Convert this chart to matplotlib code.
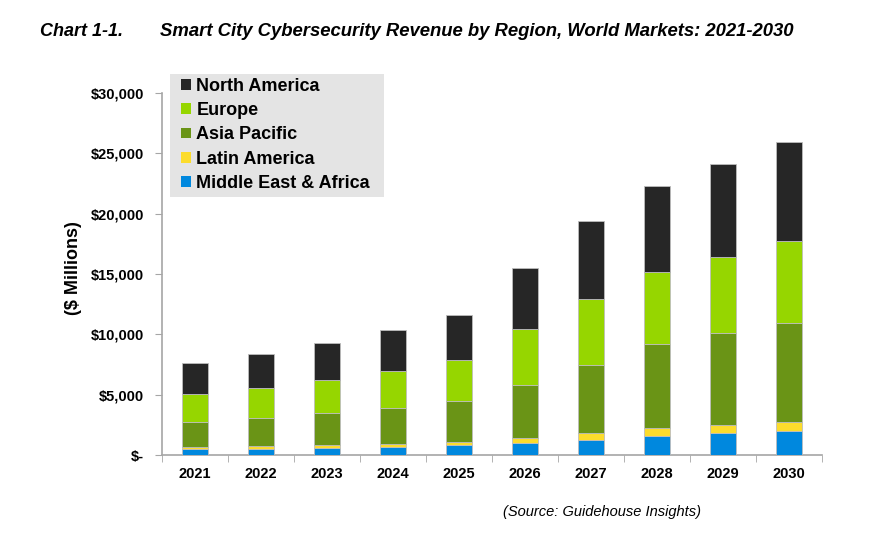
import numpy as np
import matplotlib.pyplot as plt
from matplotlib.patches import Rectangle
from matplotlib.ticker import FuncFormatter, MultipleLocator

years = ['2021', '2022', '2023', '2024', '2025', '2026', '2027', '2028', '2029', '2030']
middle_east_africa = [470, 525, 610, 690, 830, 1020, 1270, 1575, 1800, 1960]
latin_america = [190, 195, 220, 250, 270, 410, 530, 690, 710, 800]
asia_pacific = [2100, 2370, 2680, 2980, 3350, 4410, 5630, 6935, 7570, 8180]
europe = [2290, 2490, 2705, 3040, 3395, 4600, 5470, 5970, 6360, 6790]
north_america = [2550, 2760, 3065, 3400, 3785, 5070, 6520, 7120, 7680, 8240]

series = [
    ('Middle East & Africa', middle_east_africa, '#0088de'),
    ('Latin America', latin_america, '#fcdc2c'),
    ('Asia Pacific', asia_pacific, '#6a9416'),
    ('Europe', europe, '#96d600'),
    ('North America', north_america, '#262626'),
]

plt.rcParams['font.family'] = ['Liberation Sans', 'DejaVu Sans']

W, H = 892, 547
fig = plt.figure(figsize=(W / 100, H / 100), dpi=100)
ax = fig.add_axes([162 / W, 1 - 455 / H, 660 / W, 362 / H])

x = np.arange(len(years))
bottom = np.zeros(len(years))
handles = []
for name, vals, color in series:
    b = ax.bar(x, vals, 0.4, bottom=bottom, color=color, edgecolor='#bdbdbd',
               linewidth=0.6, label=name, zorder=3)
    handles.append(b)
    bottom = bottom + np.array(vals)

ax.set_xlim(-0.5, len(years) - 0.5)
ax.set_ylim(0, 30000)
ax.yaxis.set_major_locator(MultipleLocator(5000))
ax.yaxis.set_major_formatter(FuncFormatter(lambda v, p: '$-' if v == 0 else '${:,.0f}'.format(v)))
ax.set_xticks(x)
ax.set_xticklabels(years)
ax.set_xticks(np.arange(-0.5, len(years), 1), minor=True)
ax.tick_params(axis='x', which='major', length=0, pad=9, labelsize=10.5)
ax.tick_params(axis='x', which='minor', length=5, color='#a6a6a6', direction='out')
ax.tick_params(axis='y', length=5, color='#a6a6a6', pad=8, labelsize=10.5)
for lbl in ax.get_xticklabels() + ax.get_yticklabels():
    lbl.set_fontweight('bold')

for s in ['top', 'right']:
    ax.spines[s].set_visible(False)
for s in ['left', 'bottom']:
    ax.spines[s].set_color('#a6a6a6')
    ax.spines[s].set_linewidth(1.2)

ax.set_ylabel('($ Millions)', fontsize=13, fontweight='bold')
ax.yaxis.set_label_coords(-0.121, 0.517)

# grey legend panel
ax.add_patch(Rectangle((170 / W, 1 - 197 / H), 214 / W, 123 / H, transform=fig.transFigure,
                       facecolor='#e4e4e4', edgecolor='none', clip_on=False, zorder=1))
leg = ax.legend(handles[::-1], [s[0] for s in series][::-1], loc='upper left',
                bbox_to_anchor=(181 / W, 1 - 78 / H), bbox_transform=fig.transFigure,
                fontsize=13, frameon=False, handlelength=0.55, handleheight=0.55,
                handletextpad=0.3, labelspacing=0.4, borderpad=0, borderaxespad=0)
for t in leg.get_texts():
    t.set_fontweight('bold')
for h in leg.legend_handles:
    h.set_edgecolor('none')

fig.text(40 / W, 1 - 32 / H, 'Chart 1-1.', fontsize=13, fontweight='bold',
         fontstyle='italic', va='center', ha='left')
fig.text(160 / W, 1 - 32 / H,
         'Smart City Cybersecurity Revenue by Region, World Markets: 2021-2030',
         fontsize=13.3, fontweight='bold', fontstyle='italic', va='center', ha='left')
fig.text(503 / W, 1 - 512 / H, '(Source: Guidehouse Insights)', fontsize=10.5,
         fontstyle='italic', va='center', ha='left')

fig.savefig('out.png', dpi=100)
